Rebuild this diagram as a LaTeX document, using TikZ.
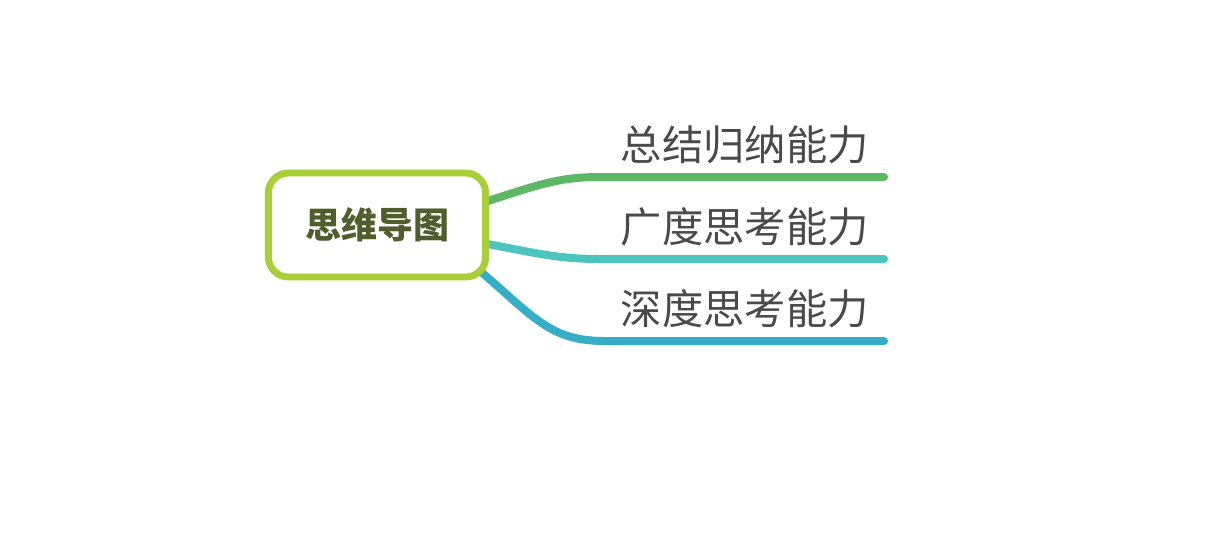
\documentclass[tikz,border=0pt]{standalone}
\usepackage{fontspec}
\newfontfamily\cjk{Noto Sans CJK SC}
\usetikzlibrary{positioning}
\pgfdeclarelayer{background}
\pgfsetlayers{background,main}
\definecolor{rootline}{HTML}{A9CF38}
\definecolor{roottext}{HTML}{505E2E}
\definecolor{brgreen}{HTML}{5CB865}
\definecolor{brteal}{HTML}{4DC5BF}
\definecolor{brblue}{HTML}{37AEC8}
\definecolor{labeltext}{HTML}{4A4A4A}
\tikzset{
  rootbox/.style={draw=rootline, line width=5.2pt, rounded corners=15pt, fill=white,
    minimum width=163pt, minimum height=78pt, font=\cjk\bfseries\fontsize{27}{30}\selectfont,
    text=roottext},
  leaflabel/.style={anchor=east, font=\cjk\fontsize{31}{36}\selectfont, text=labeltext, inner sep=0pt},
  branch/.style={line width=6pt, line cap=round}
}

\begin{document}
\begin{tikzpicture}[x=0.75pt, y=-0.75pt]
  \useasboundingbox (0,0) rectangle (1226,532);
  % central topic
  \node[rootbox] (root) at (377,225) {思维导图};
  % branch ends
  \coordinate (g1) at (600,177);  \coordinate (g2) at (884,177);
  \coordinate (t1) at (600,259);  \coordinate (t2) at (884,259);
  \coordinate (b1) at (605,341);  \coordinate (b2) at (884,341);
  % branches, behind the box
  \begin{pgfonlayer}{background}
  \draw[branch, brgreen] ([xshift=-6]root.11) .. controls (540,184) and (560,177) .. (g1) -- (g2);
  \draw[branch, brteal] ([xshift=-6]root.-9) .. controls (540,254) and (560,259) .. (t1) -- (t2);
  \draw[branch, brblue] ([xshift=-9pt,yshift=9pt]root.south east) .. controls (535,318) and (550,341) .. (b1) -- (b2);
  \end{pgfonlayer}
  % labels
  \node[leaflabel] (l1) at (869,145) {总结归纳能力};
  \node[leaflabel] (l2) at (869,227) {广度思考能力};
  \node[leaflabel] (l3) at (869,309) {深度思考能力};
\end{tikzpicture}
\end{document}
